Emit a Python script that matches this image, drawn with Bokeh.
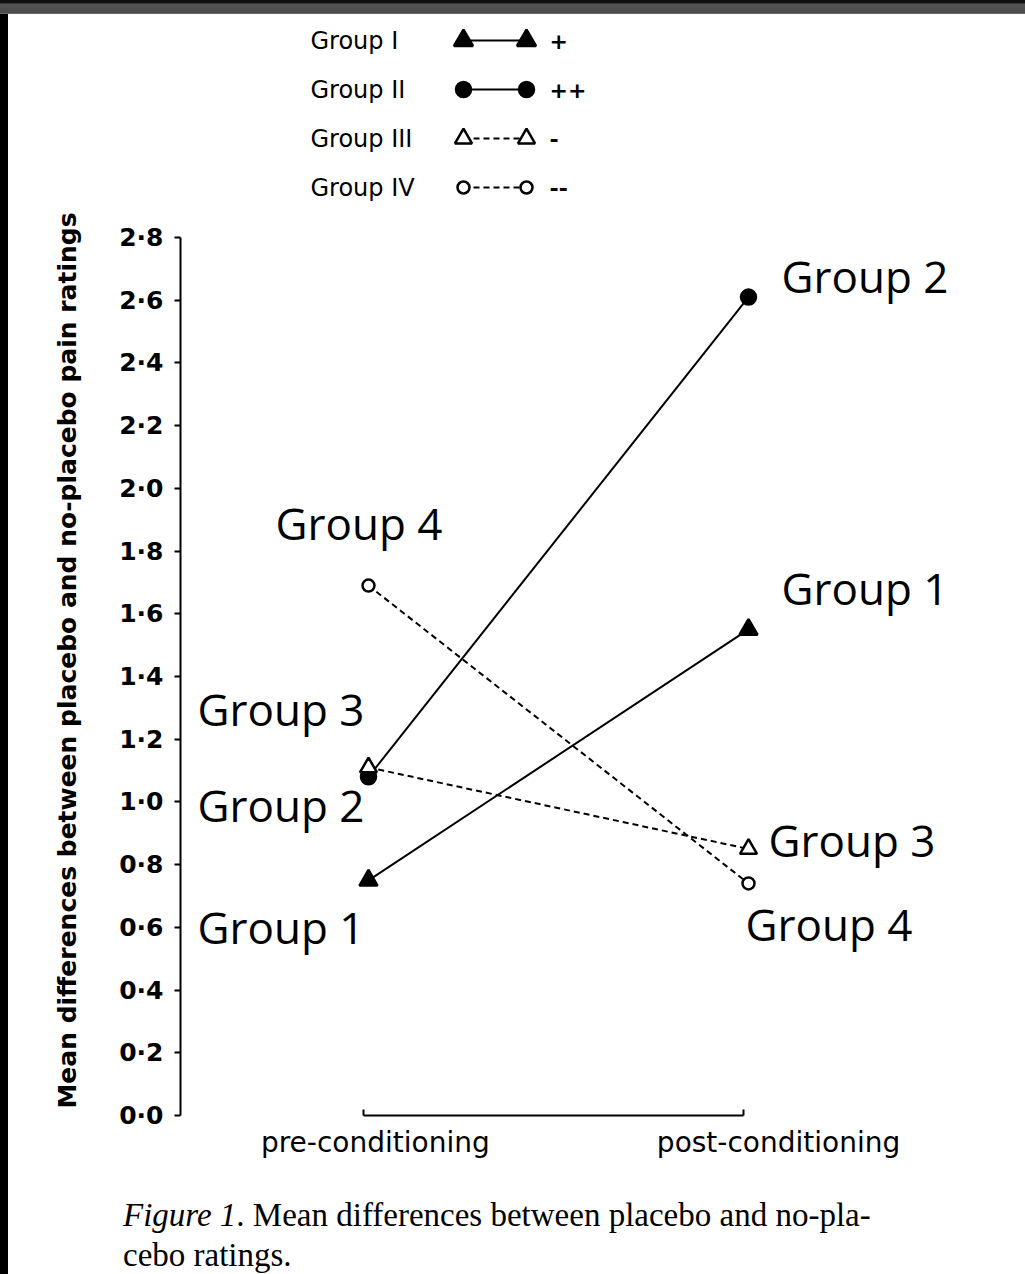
from bokeh.plotting import figure
from bokeh.models import Range1d, FixedTicker, Div
from bokeh.layouts import column, row
from bokeh.embed import file_html
from bokeh.resources import INLINE
from bokeh.core.properties import value

# ---------------- data ----------------
phases = ["pre-conditioning", "post-conditioning"]
phase_x = [0, 1]
groups = ["Group 1", "Group 2", "Group 3", "Group 4"]
legend_names = ["Group I", "Group II", "Group III", "Group IV"]
legend_signs = ["+", "++", "-", "--"]
pre_values = [0.75, 1.08, 1.11, 1.69]
post_values = [1.55, 2.61, 0.85, 0.74]
y_ticks = [0.0, 0.2, 0.4, 0.6, 0.8, 1.0, 1.2, 1.4, 1.6, 1.8, 2.0, 2.2, 2.4, 2.6, 2.8]
y_tick_labels = ["0·0", "0·2", "0·4", "0·6", "0·8", "1·0", "1·2", "1·4",
                 "1·6", "1·8", "2·0", "2·2", "2·4", "2·6", "2·8"]
y_title = "Mean differences between placebo and no-placebo pain ratings"
caption_italic = "Figure 1"
caption_rest = ". Mean differences between placebo and no-pla-<br>cebo ratings."

# annotations: (group index, phase index)
annot_refs = [(1, 1), (3, 0), (0, 1), (2, 0), (1, 0), (2, 1), (0, 0), (3, 1)]

# ---------------- styles / layout ----------------
markers = ["triangle", "circle", "triangle", "circle"]
filled = [True, True, False, False]
dashes = ["solid", "solid", "6 4", "6 4"]
msizes = [18, 15, 17, 12]
lsizes = [19, 15, 17, 12]
annot_offsets = [(33, -21), (-93, -63), (33, -41), (-171, -58),
                 (-171, 28), (20, -9), (-171, 47), (-3, 41)]
x_label_pos = [0.018, 1.079]
x_bounds = (-0.013, 0.987)

W = 1017
LEG_H = 191
MAIN_H = 970
CAP_H = 99
LEFT = 172

# ---------------- frame decorations ----------------
top_bar = Div(text="", width=1025, height=14, margin=0,
              styles={"background": "linear-gradient(#111 0px, #111 3px, #555 4px, #4a4a4a 13px, #888 14px)"})
left_bar = Div(text="", width=8, height=LEG_H + MAIN_H + CAP_H, margin=0,
               styles={"background-color": "black"})

# ---------------- legend (top) ----------------
leg = figure(width=W, height=LEG_H, x_range=Range1d(180, 1025), y_range=Range1d(0, LEG_H),
             output_backend="svg", toolbar_location=None,
             x_axis_location=None, y_axis_location=None,
             min_border_left=LEFT, min_border_right=0, min_border_top=0, min_border_bottom=0,
             outline_line_color=None)
leg.grid.visible = False

row_top, row_gap = 165, 49
tx, m1, m2, sx = 310, 463, 526, 549
for i in range(4):
    yy = row_top - i * row_gap
    leg.text(x=[tx], y=[yy], text=[legend_names[i]], text_font=value("DejaVu Sans"),
             text_font_size="24px", text_baseline="middle", text_align="left", text_color="black")
    leg.line(x=[m1, m2], y=[yy, yy], line_color="black", line_width=2, line_dash=dashes[i])
    leg.scatter(x=[m1, m2], y=[yy, yy], marker=markers[i], size=lsizes[i],
                fill_color="black" if filled[i] else "white", line_color="black", line_width=2.5)
    leg.text(x=[sx], y=[yy], text=[legend_signs[i]], text_font=value("DejaVu Sans"),
             text_font_size="22px", text_font_style="bold", text_baseline="middle",
             text_align="left", text_color="black")

# ---------------- main plot ----------------
p = figure(width=W, height=MAIN_H, x_range=Range1d(-0.4947, 1.7289), y_range=Range1d(0, 2.902),
           output_backend="svg", toolbar_location=None,
           min_border_left=LEFT, min_border_right=0, min_border_top=0, min_border_bottom=60,
           outline_line_color=None)
p.grid.visible = False

for i in range(4):
    ys = [pre_values[i], post_values[i]]
    p.line(x=phase_x, y=ys, line_color="black", line_width=2, line_dash=dashes[i])
for i in range(4):
    ys = [pre_values[i], post_values[i]]
    p.scatter(x=phase_x, y=ys, marker=markers[i], size=msizes[i],
              fill_color="black" if filled[i] else "white", line_color="black", line_width=2.5)

vals = [pre_values, post_values]
for (g, ph), (dx, dy) in zip(annot_refs, annot_offsets):
    p.text(x=[phase_x[ph]], y=[vals[ph][g]], text=[groups[g]], x_offset=dx, y_offset=dy,
           text_font=value("Open Sans"), text_font_size="44px", text_align="left",
           text_baseline="alphabetic", text_color="black")

# y axis
p.yaxis.ticker = FixedTicker(ticks=y_ticks, minor_ticks=[])
p.yaxis.major_label_overrides = {t: l for t, l in zip(y_ticks, y_tick_labels)}
p.yaxis.bounds = (0, 2.8)
p.yaxis.axis_line_width = 2
p.yaxis.major_tick_line_width = 2
p.yaxis.major_tick_out = 6
p.yaxis.major_tick_in = 0
p.yaxis.major_label_standoff = 11
p.yaxis.major_label_text_font = "DejaVu Sans"
p.yaxis.major_label_text_font_style = "bold"
p.yaxis.major_label_text_font_size = "25px"
p.yaxis.major_label_text_color = "black"
p.yaxis.axis_label = y_title
p.yaxis.axis_label_text_font = "DejaVu Sans"
p.yaxis.axis_label_text_font_style = "bold"
p.yaxis.axis_label_text_font_size = "25px"
p.yaxis.axis_label_text_color = "black"
p.yaxis.axis_label_standoff = 34

# x axis
p.xaxis.ticker = FixedTicker(ticks=x_label_pos, minor_ticks=list(x_bounds))
p.xaxis.major_label_overrides = {x_label_pos[0]: phases[0], x_label_pos[1]: phases[1]}
p.xaxis.bounds = x_bounds
p.xaxis.axis_line_width = 2
p.xaxis.major_tick_line_color = None
p.xaxis.minor_tick_in = 6
p.xaxis.minor_tick_out = 0
p.xaxis.minor_tick_line_width = 2
p.xaxis.major_label_standoff = 4
p.xaxis.major_label_text_font = "DejaVu Sans"
p.xaxis.major_label_text_font_size = "28px"
p.xaxis.major_label_text_color = "black"

# ---------------- caption ----------------
cap = Div(text=('<div style="font-family:\'Liberation Serif\',serif;font-size:33px;'
                'line-height:40px;padding-left:115px;padding-top:20px;color:black;'
                'white-space:nowrap;">'
                '<i>' + caption_italic + '</i>' + caption_rest + '</div>'),
          width=W, height=CAP_H, margin=0)

body = row(left_bar, column(leg, p, cap, spacing=0), spacing=0)
layout = column(top_bar, body, spacing=0)
open("out.html", "w").write(file_html(layout, INLINE))
